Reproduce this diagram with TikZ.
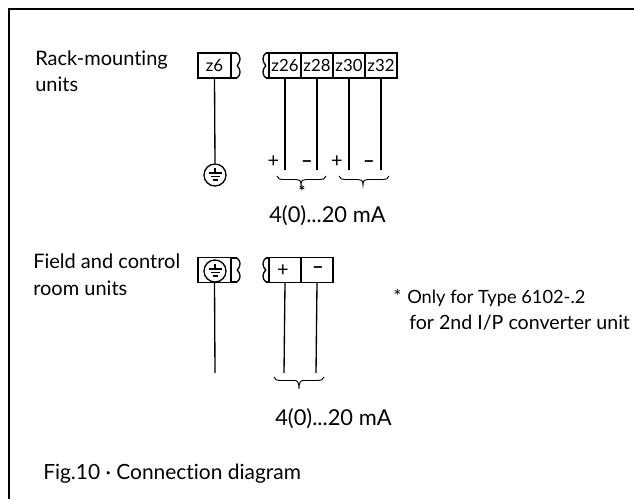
\documentclass[tikz,border=0pt]{standalone}
\usepackage{fontspec}
\setmainfont[Ligatures=NoCommon]{Lato}
\tikzset{x=0.75pt,y=-0.75pt,
 wire/.style={line width=1pt,black},
 term/.style={draw,line width=1pt,inner sep=0pt,minimum width=24pt,minimum height=18.6pt,font=\fontsize{12.6}{13}\selectfont,text depth=0pt},
 lbl/.style={font=\fontsize{15}{20}\selectfont,inner sep=0pt,align=left},
 note/.style={font=\fontsize{14.2}{18}\selectfont,inner sep=0pt,align=left},
 sign/.style={font=\fontsize{15}{15}\selectfont,inner sep=0pt},
 brace/.style={line width=0.7pt,black}}
\newcommand{\gnd}[3]{%
 \node[circle,draw,line width=1pt,inner sep=0pt,minimum size=16.5pt] (#3) at (#1,#2) {};
 \draw[line width=0.8pt] (#1-6.5,#2-2)--(#1+6.5,#2-2);
 \draw[line width=0.8pt] (#1-4.5,#2+1.5)--(#1+4.5,#2+1.5);
 \draw[line width=0.8pt] (#1-2.5,#2+5)--(#1+2.5,#2+5);
 \draw[line width=0.8pt] (#1,#2-7)--(#1,#2-2);}
\newcommand{\brc}[5]{% x1 x2 xm y tipy
 \draw[brace] (#1,#4) .. controls (#1+1,#4+3) and (#1+3,#4+3.5) .. (#1+6,#4+3.5) -- (#3-5,#4+3.5) .. controls (#3-2,#4+3.5) and (#3,#4+4) .. (#3,#5)
 .. controls (#3,#4+4) and (#3+2,#4+3.5) .. (#3+5,#4+3.5) -- (#2-6,#4+3.5) .. controls (#2-3,#4+3.5) and (#2-1,#4+3) .. (#2,#4);}
% x, y1, y2, direction of the bulge (+1 right, -1 left)
\newcommand{\wavy}[4]{%
 \pgfmathsetmacro{\ym}{(#2+#3)/2}
 \draw[wire] (#1,#2) .. controls (#1+#4*4,#2+3) and (#1+#4*4,#2+8) .. (#1+#4*0.3,\ym) .. controls (#1+#4*4,#3-8) and (#1+#4*4,#3-3) .. (#1,#3);}
\begin{document}
\begin{tikzpicture}
\useasboundingbox (0,0) rectangle (634,499);
\fill[white] (0,0) rectangle (634,499);
\draw[line width=1.5pt] (9,499) -- (9,9.3) -- (634,9.3);
\node[lbl,anchor=base west] (t1) at (35,92) {Rack-mounting\\units};
\node[lbl,anchor=base west] (t2) at (33,295) {Field and control\\room units};
% upper left
\node[term,minimum width=24.75pt] (z6) at (214.5,65.5) {z6};
\draw[wire] (231,53) -- (237,53) (231,78) -- (237,78);
\wavy{237}{53}{78}{1}
\gnd{215}{175}{g1}
\draw[wire] (z6.south) -- (g1.north);
% upper right
\draw[wire] (269,53) -- (266,53) (269,78) -- (266,78);
\wavy{266}{53}{78}{-1}
\node[term] (z26) at (285,65.5) {z26};
\node[term] (z28) at (317,65.5) {z28};
\node[term] (z30) at (349,65.5) {z30};
\node[term] (z32) at (381,65.5) {z32};
\coordinate (e26) at (285,170);
\coordinate (e28) at (317,170);
\coordinate (e30) at (349,170);
\coordinate (e32) at (381,170);
\draw[wire] (z26.south) -- (e26);
\draw[wire] (z28.south) -- (e28);
\draw[wire] (z30.south) -- (e30);
\draw[wire] (z32.south) -- (e32);
\node[sign] (p1) at (273.5,162) {+};
\node[sign] (m1) at (307,164) {\textbf{–}};
\node[sign] (p2) at (337,162) {+};
\node[sign] (m2) at (369,164) {\textbf{–}};
\brc{277}{326}{301}{176}{185}
\brc{339}{389}{363}{176}{185}
\node[inner sep=0pt,font=\fontsize{12}{12}\selectfont\bfseries] (st) at (302,191) {*};
\node[lbl,font=\fontsize{16.4}{18}\selectfont,anchor=base west] (ma1) at (269,222) {4(0)...20 mA};
% lower left
\node[term,minimum width=24.75pt] (b1) at (214.5,270) {};
\draw[wire] (231,258) -- (237,258) (231,282) -- (237,282);
\wavy{237}{258}{282}{1}
\gnd{215}{271}{g2}
\coordinate (e1) at (215,373);
\draw[wire] (b1.south) -- (e1);
% lower right
\draw[wire] (269,258) -- (266,258) (269,282) -- (266,282);
\wavy{266}{258}{282}{-1}
\node[term] (bp) at (285,270) {};
\node[term] (bm) at (317,270) {};
\node[sign] (bpt) at (283,270.5) {+};
\node[sign] (bmt) at (318,270) {\textbf{–}};
\coordinate (ep) at (284,373);
\coordinate (em) at (316,373);
\draw[wire] (bp.south) -- (ep);
\draw[wire] (bm.south) -- (em);
\brc{274}{324}{299}{377}{389}
\node[lbl,font=\fontsize{16.4}{18}\selectfont,anchor=base west] (ma2) at (275,425) {4(0)...20 mA};
% note
\node[note,anchor=base west] (n0) at (393,303) {*};
\node[note,font=\fontsize{13.7}{18}\selectfont,anchor=base west] (n1) at (407,303) {Only for Type 6102-.2};
\node[note,font=\fontsize{14.7}{18}\selectfont,anchor=base west] (n2) at (409,329) {for 2nd I/P converter unit};
\node[lbl,font=\fontsize{15.7}{18}\selectfont,anchor=base west] (cp) at (43,479) {Fig.10 · Connection diagram};
\end{tikzpicture}
\end{document}
